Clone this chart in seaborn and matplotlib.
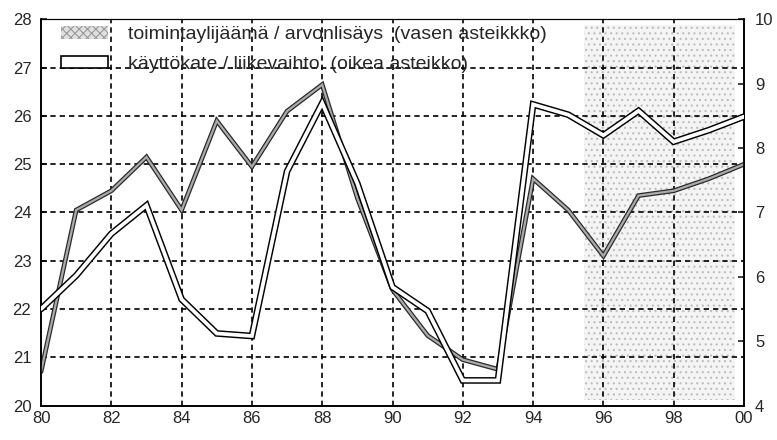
import matplotlib
matplotlib.use("Agg")
import matplotlib.pyplot as plt
import matplotlib.patches as mpatches
import seaborn as sns
import pandas as pd

# Years 1980-2000
years = list(range(1980, 2001))

# toimintaylijäämä / arvonlisäys, % (left scale)
surplus_share = [20.7, 24.05, 24.45, 25.15, 24.05, 25.9, 24.95, 26.1, 26.65, 24.3,
                 22.4, 21.45, 20.95, 20.75, 24.7, 24.05, 23.1, 24.35, 24.45, 24.7, 25.0]

# käyttökate / liikevaihto, % (right scale)
ebitda_margin = [5.5, 6.02, 6.67, 7.11, 5.65, 5.12, 5.08, 7.64, 8.7, 7.45,
                 5.84, 5.47, 4.39, 4.39, 8.68, 8.52, 8.2, 8.58, 8.1, 8.28, 8.49]

x_ticks = list(range(1980, 2001, 2))
x_tick_labels = ["80", "82", "84", "86", "88", "90", "92", "94", "96", "98", "00"]
left_ticks = list(range(20, 29))
right_ticks = list(range(4, 11))

forecast_span = (1995.45, 1999.75)

labels = ["toimintaylijäämä / arvonlisäys  (vasen asteikkko)",
          "käyttökate / liikevaihto  (oikea asteikko)"]

df = pd.DataFrame({"vuosi": years, "ylijaama": surplus_share, "kate": ebitda_margin})

sns.set_theme(style="white")
plt.rcParams["font.family"] = ["Liberation Sans", "DejaVu Sans"]
plt.rcParams["hatch.linewidth"] = 0.8

fig = plt.figure(figsize=(7.77, 4.40), dpi=100)
ax = fig.add_axes([0.0528, 0.0784, 0.9047, 0.8773])
ax2 = ax.twinx()

# forecast period shading
ax.axvspan(*forecast_span, ymin=0.015, ymax=0.985, facecolor="#f4f4f4",
           edgecolor="#bdbdbd", hatch="...", lw=0, zorder=0)

# dashed grid
grid_kw = dict(color="black", lw=1.2, ls=(0, (3.2, 2.4)), zorder=1)
for xv in x_ticks[1:-1]:
    ax.axvline(xv, **grid_kw)
for yv in left_ticks[1:-1]:
    ax.axhline(yv, **grid_kw)

# stippled band line on the left scale
sns.lineplot(data=df, x="vuosi", y="ylijaama", ax=ax, color="#2a2a2a", lw=3.4,
             solid_joinstyle="miter", zorder=3)
sns.lineplot(data=df, x="vuosi", y="ylijaama", ax=ax, color="#ababab", lw=1.6,
             solid_joinstyle="miter", zorder=4)

# hollow double line on the right scale
sns.lineplot(data=df, x="vuosi", y="kate", ax=ax2, color="black", lw=4.8,
             solid_joinstyle="miter", zorder=3)
sns.lineplot(data=df, x="vuosi", y="kate", ax=ax2, color="white", lw=2.7,
             solid_joinstyle="miter", zorder=4)

ax.set_xlim(1980, 2000)
ax.set_ylim(20, 28)
ax2.set_ylim(4, 10)

ax.set_xticks(x_ticks)
ax.set_xticklabels(x_tick_labels)
ax.set_yticks(left_ticks)
ax2.set_yticks(right_ticks)
for a in (ax, ax2):
    a.set_xlabel("")
    a.set_ylabel("")
    a.grid(False)

ax.tick_params(axis="x", length=0, pad=4, labelsize=12)
ax.tick_params(axis="y", length=4, direction="in", pad=7, labelsize=12)
ax2.tick_params(axis="y", length=4, direction="in", pad=8, labelsize=12)

for a in (ax, ax2):
    for side in ("left", "bottom", "right"):
        a.spines[side].set_color("black")
        a.spines[side].set_linewidth(1.2)
    a.spines["top"].set_color("black")
    a.spines["top"].set_linewidth(0.8)

handles = [
    mpatches.Patch(facecolor="#e0e0e0", edgecolor="#9a9a9a", hatch="xxxx", lw=0),
    mpatches.Patch(facecolor="white", edgecolor="black", lw=1.2),
]
ax2.legend(handles, labels, loc="upper left", bbox_to_anchor=(0.028, 0.982),
           frameon=False, fontsize=14, handlelength=2.45, handleheight=0.6,
           handletextpad=1.0, labelspacing=0.62, borderpad=0, borderaxespad=0)

fig.savefig("out.png", dpi=100)
